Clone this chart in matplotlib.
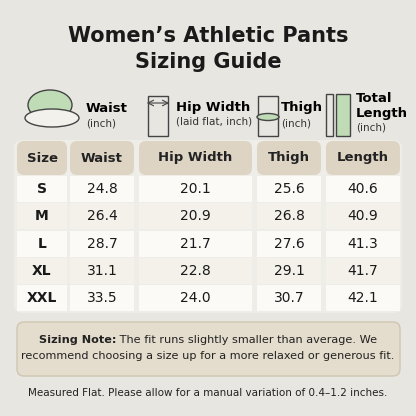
import matplotlib
matplotlib.use("Agg")
import matplotlib.pyplot as plt
from matplotlib.patches import FancyBboxPatch, Ellipse, Rectangle

sizes = ["S", "M", "L", "XL", "XXL"]
waist = [24.8, 26.4, 28.7, 31.1, 33.5]
hip = [20.1, 20.9, 21.7, 22.8, 24.0]
thigh = [25.6, 26.8, 27.6, 29.1, 30.7]
length = [40.6, 40.9, 41.3, 41.7, 42.1]
headers = ["Size", "Waist", "Hip Width", "Thigh", "Length"]

fig = plt.figure(figsize=(4.16, 4.16), dpi=100)
ax = fig.add_axes([0, 0, 1, 1])
ax.set_xlim(0, 416); ax.set_ylim(416, 0); ax.axis("off")
fig.patch.set_facecolor("#e8e6e1")

def rbox(x0, y0, x1, y1, fc, ec="none", r=6, lw=1):
    ax.add_patch(FancyBboxPatch((x0 + r, y0 + r), x1 - x0 - 2*r, y1 - y0 - 2*r,
                 boxstyle=f"round,pad={r}", fc=fc, ec=ec, lw=lw))

ax.text(208, 36, "Women\u2019s Athletic Pants", ha="center", va="center", fontsize=15, weight="bold", color="#1a1a1a")
ax.text(208, 62, "Sizing Guide", ha="center", va="center", fontsize=15, weight="bold", color="#1a1a1a")

# simple icons
ax.add_patch(Ellipse((50, 105), 44, 30, fc="#bfdcb6", ec="#444", lw=1))
ax.add_patch(Ellipse((52, 118), 54, 18, fc="#f3f1ec", ec="#444", lw=1))
ax.add_patch(Rectangle((148, 96), 20, 40, fc="none", ec="#444", lw=1))
ax.annotate("", xy=(144, 103), xytext=(172, 103), arrowprops=dict(arrowstyle="<->", color="#444", lw=0.8))
ax.add_patch(Rectangle((258, 96), 20, 40, fc="none", ec="#444", lw=1))
ax.add_patch(Ellipse((268, 117), 22, 7, fc="#bfdcb6", ec="#444", lw=1))
ax.add_patch(Rectangle((326, 94), 7, 42, fc="none", ec="#444", lw=1))
ax.add_patch(Rectangle((336, 94), 14, 42, fc="#bfdcb6", ec="#444", lw=1))

ax.text(86, 108, "Waist", fontsize=9.5, weight="bold", va="center")
ax.text(86, 123, "(inch)", fontsize=7.5, va="center", color="#333")
ax.text(176, 107, "Hip Width", fontsize=9.5, weight="bold", va="center")
ax.text(176, 122, "(laid flat, inch)", fontsize=7.5, va="center", color="#333")
ax.text(281, 108, "Thigh", fontsize=9.5, weight="bold", va="center")
ax.text(281, 123, "(inch)", fontsize=7.5, va="center", color="#333")
ax.text(356, 99, "Total", fontsize=9.5, weight="bold", va="center")
ax.text(356, 114, "Length", fontsize=9.5, weight="bold", va="center")
ax.text(356, 128, "(inch)", fontsize=7.5, va="center", color="#333")

cols = [(17, 67), (70, 134), (139, 252), (257, 321), (326, 400)]
rbox(14, 140, 402, 313, "#efede8", r=8)
for (x0, x1), h in zip(cols, headers):
    rbox(x0, 141, x1, 175, "#ddd4c4", r=7)
    ax.text((x0 + x1) / 2, 158, h, ha="center", va="center", fontsize=9.5, weight="bold", color="#222")

data = [sizes, waist, hip, thigh, length]
for i in range(len(sizes)):
    y0 = 176 + i * 27.3
    fc = "#fbfaf7" if i % 2 == 0 else "#f3f1ea"
    for j, (x0, x1) in enumerate(cols):
        ax.add_patch(Rectangle((x0, y0), x1 - x0, 26, fc=fc, ec="none"))
        v = data[j][i]
        s = v if isinstance(v, str) else f"{v:.1f}"
        ax.text((x0 + x1) / 2, y0 + 13, s, ha="center", va="center", fontsize=10,
                weight="bold" if j == 0 else "normal", color="#1a1a1a")

rbox(17, 322, 400, 376, "#e4ddcd", ec="#cfc6b2", r=7)
fs = 8.1
t1 = ax.text(0, 340, "Sizing Note:", ha="left", va="center", fontsize=fs, weight="bold", color="#222")
t2 = ax.text(0, 340, " The fit runs slightly smaller than average. We", ha="left", va="center", fontsize=fs, color="#222")
r = fig.canvas.get_renderer()
w1 = t1.get_window_extent(r).width
w2 = t2.get_window_extent(r).width
x0 = 208 - (w1 + w2) / 2
t1.set_x(x0); t2.set_x(x0 + w1)
ax.text(208, 356, "recommend choosing a size up for a more relaxed or generous fit.",
        ha="center", va="center", fontsize=fs, color="#222")
ax.text(208, 393, "Measured Flat. Please allow for a manual variation of 0.4\u20131.2 inches.",
        ha="center", va="center", fontsize=7.5, color="#222")

fig.savefig("out.png", dpi=100)
